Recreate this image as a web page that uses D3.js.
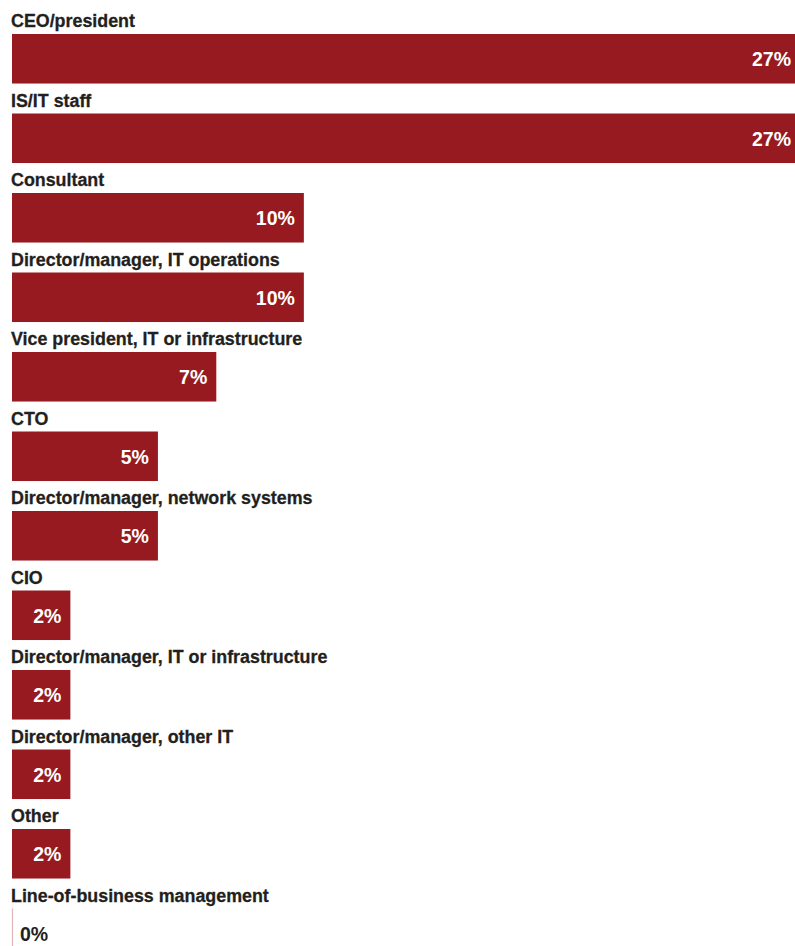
<!DOCTYPE html>
<html>
<head>
<meta charset="utf-8">
<script src="https://cdn.jsdelivr.net/npm/d3@7"></script>
<style>
  html, body { margin: 0; padding: 0; background: #fff; }
  svg { display: block; }
</style>
</head>
<body>
<svg id="chart" width="795" height="946"></svg>
<script>
// Respondent job titles and their share of responses (%)
const categories = [
  "CEO/president",
  "IS/IT staff",
  "Consultant",
  "Director/manager, IT operations",
  "Vice president, IT or infrastructure",
  "CTO",
  "Director/manager, network systems",
  "CIO",
  "Director/manager, IT or infrastructure",
  "Director/manager, other IT",
  "Other",
  "Line-of-business management"
];
const values = [27, 27, 10, 10, 7, 5, 5, 2, 2, 2, 2, 0];

const barColor = "#961a20";
const textColor = "#231f20";
const labelFont = "'Liberation Sans', Arial, Helvetica, sans-serif";
const valueFont = "'Liberation Sans', Arial, Helvetica, sans-serif";
const labelCondense = 0.94; // horizontal squeeze for a condensed look

const data = categories.map((c, i) => ({ category: c, value: values[i] }));

const svg = d3.select("#chart");

// Horizontal value scale; the longest bars run past the right edge
const x = d3.scaleLinear().domain([0, 27]).range([12, 800]);

// Each row: a label line, then a bar beneath it
const rowStep = 79.5;
const pad = 0.377;
const y = d3.scaleBand()
  .domain(categories)
  .range([34, 34 + rowStep * (categories.length - pad)])
  .paddingInner(pad)
  .paddingOuter(0)
  .align(0);

const rows = svg.selectAll("g.row")
  .data(data)
  .join("g")
  .attr("class", "row");

// Category name above each bar
rows.append("text")
  .attr("transform", d => `translate(${x(0) - 1},${y(d.category) - 7}) scale(${labelCondense},1)`)
  .attr("font-family", labelFont)
  .attr("font-weight", "bold")
  .attr("font-size", 19)
  .attr("fill", textColor)
  .attr("stroke", textColor)
  .attr("stroke-width", 0.3)
  .text(d => d.category);

// Bars
rows.append("rect")
  .attr("x", x(0))
  .attr("y", d => y(d.category))
  .attr("width", d => Math.max(0, x(d.value) - x(0)))
  .attr("height", y.bandwidth())
  .attr("fill", barColor);

// Zero-valued rows keep a faint baseline stub
rows.filter(d => d.value === 0)
  .append("line")
  .attr("x1", x(0) + 0.5)
  .attr("x2", x(0) + 0.5)
  .attr("y1", d => y(d.category))
  .attr("y2", d => y(d.category) + y.bandwidth())
  .attr("stroke", "#e2b6b8")
  .attr("stroke-width", 1.2);

// Value labels: inside the bar end in white, or just past the axis in dark text for empty bars
const minInside = 40;
rows.append("text")
  .attr("x", d => (x(d.value) - x(0) > minInside) ? x(d.value) - 9 : x(0) + 8)
  .attr("y", d => y(d.category) + y.bandwidth() / 2 + 7.5)
  .attr("text-anchor", d => (x(d.value) - x(0) > minInside) ? "end" : "start")
  .attr("font-family", valueFont)
  .attr("font-weight", "bold")
  .attr("font-size", 19.5)
  .attr("fill", d => (x(d.value) - x(0) > minInside) ? "#ffffff" : textColor)
  .text(d => d.value + "%");
</script>
</body>
</html>
